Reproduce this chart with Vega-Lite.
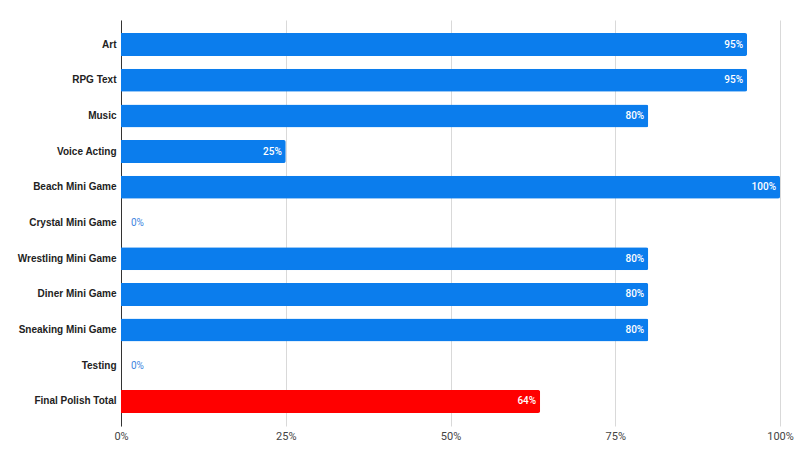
{
  "$schema": "https://vega.github.io/schema/vega-lite/v6.json",
  "autosize": "none",
  "padding": {"left": 121, "top": 20, "right": 20, "bottom": 30},
  "width": 659,
  "height": 406,
  "background": "white",
  "config": {"view": {"stroke": null}},
  "data": {
    "values": [
      {"task": "Art", "pct": 0.95, "kind": "task"},
      {"task": "RPG Text", "pct": 0.95, "kind": "task"},
      {"task": "Music", "pct": 0.80, "kind": "task"},
      {"task": "Voice Acting", "pct": 0.25, "kind": "task"},
      {"task": "Beach Mini Game", "pct": 1.00, "kind": "task"},
      {"task": "Crystal Mini Game", "pct": 0, "kind": "task"},
      {"task": "Wrestling Mini Game", "pct": 0.80, "kind": "task"},
      {"task": "Diner Mini Game", "pct": 0.80, "kind": "task"},
      {"task": "Sneaking Mini Game", "pct": 0.80, "kind": "task"},
      {"task": "Testing", "pct": 0, "kind": "task"},
      {"task": "Final Polish Total", "pct": 0.636, "kind": "total"}
    ]
  },
  "encoding": {
    "y": {
      "field": "task",
      "type": "nominal",
      "sort": null,
      "title": null,
      "scale": {"paddingInner": 0.356, "paddingOuter": 0.365},
      "axis": {
        "ticks": false,
        "domain": true,
        "domainColor": "#333333",
        "labelPadding": 5,
        "labelFont": "Liberation Sans",
        "labelFontWeight": "bold",
        "labelFontSize": 10,
        "labelColor": "#222222",
        "grid": false
      }
    },
    "x": {
      "field": "pct",
      "type": "quantitative",
      "title": null,
      "scale": {"domain": [0, 1], "nice": false},
      "axis": {
        "values": [0, 0.25, 0.5, 0.75, 1],
        "format": ".0%",
        "ticks": false,
        "domain": false,
        "grid": true,
        "gridColor": "#d9d9d9",
        "labelFlush": false,
        "labelPadding": 4,
        "labelFont": "Roboto",
        "labelFontSize": 11,
        "labelColor": "#444444"
      }
    }
  },
  "layer": [
    {
      "mark": {"type": "bar", "cornerRadiusEnd": 2},
      "encoding": {
        "color": {
          "field": "kind",
          "type": "nominal",
          "scale": {"domain": ["task", "total"], "range": ["#0b7ded", "#ff0000"]},
          "legend": null
        }
      }
    },
    {
      "transform": [{"filter": "datum.pct > 0"}],
      "mark": {"type": "text", "align": "right", "baseline": "middle", "dx": -4, "font": "Roboto", "fontSize": 10, "fontWeight": 500, "color": "white"},
      "encoding": {"text": {"field": "pct", "type": "quantitative", "format": ".0%"}}
    },
    {
      "transform": [{"filter": "datum.pct == 0"}],
      "mark": {"type": "text", "align": "left", "baseline": "middle", "dx": 10, "font": "Roboto", "fontSize": 10, "color": "#3d85e0"},
      "encoding": {"text": {"field": "pct", "type": "quantitative", "format": ".0%"}}
    }
  ]
}
